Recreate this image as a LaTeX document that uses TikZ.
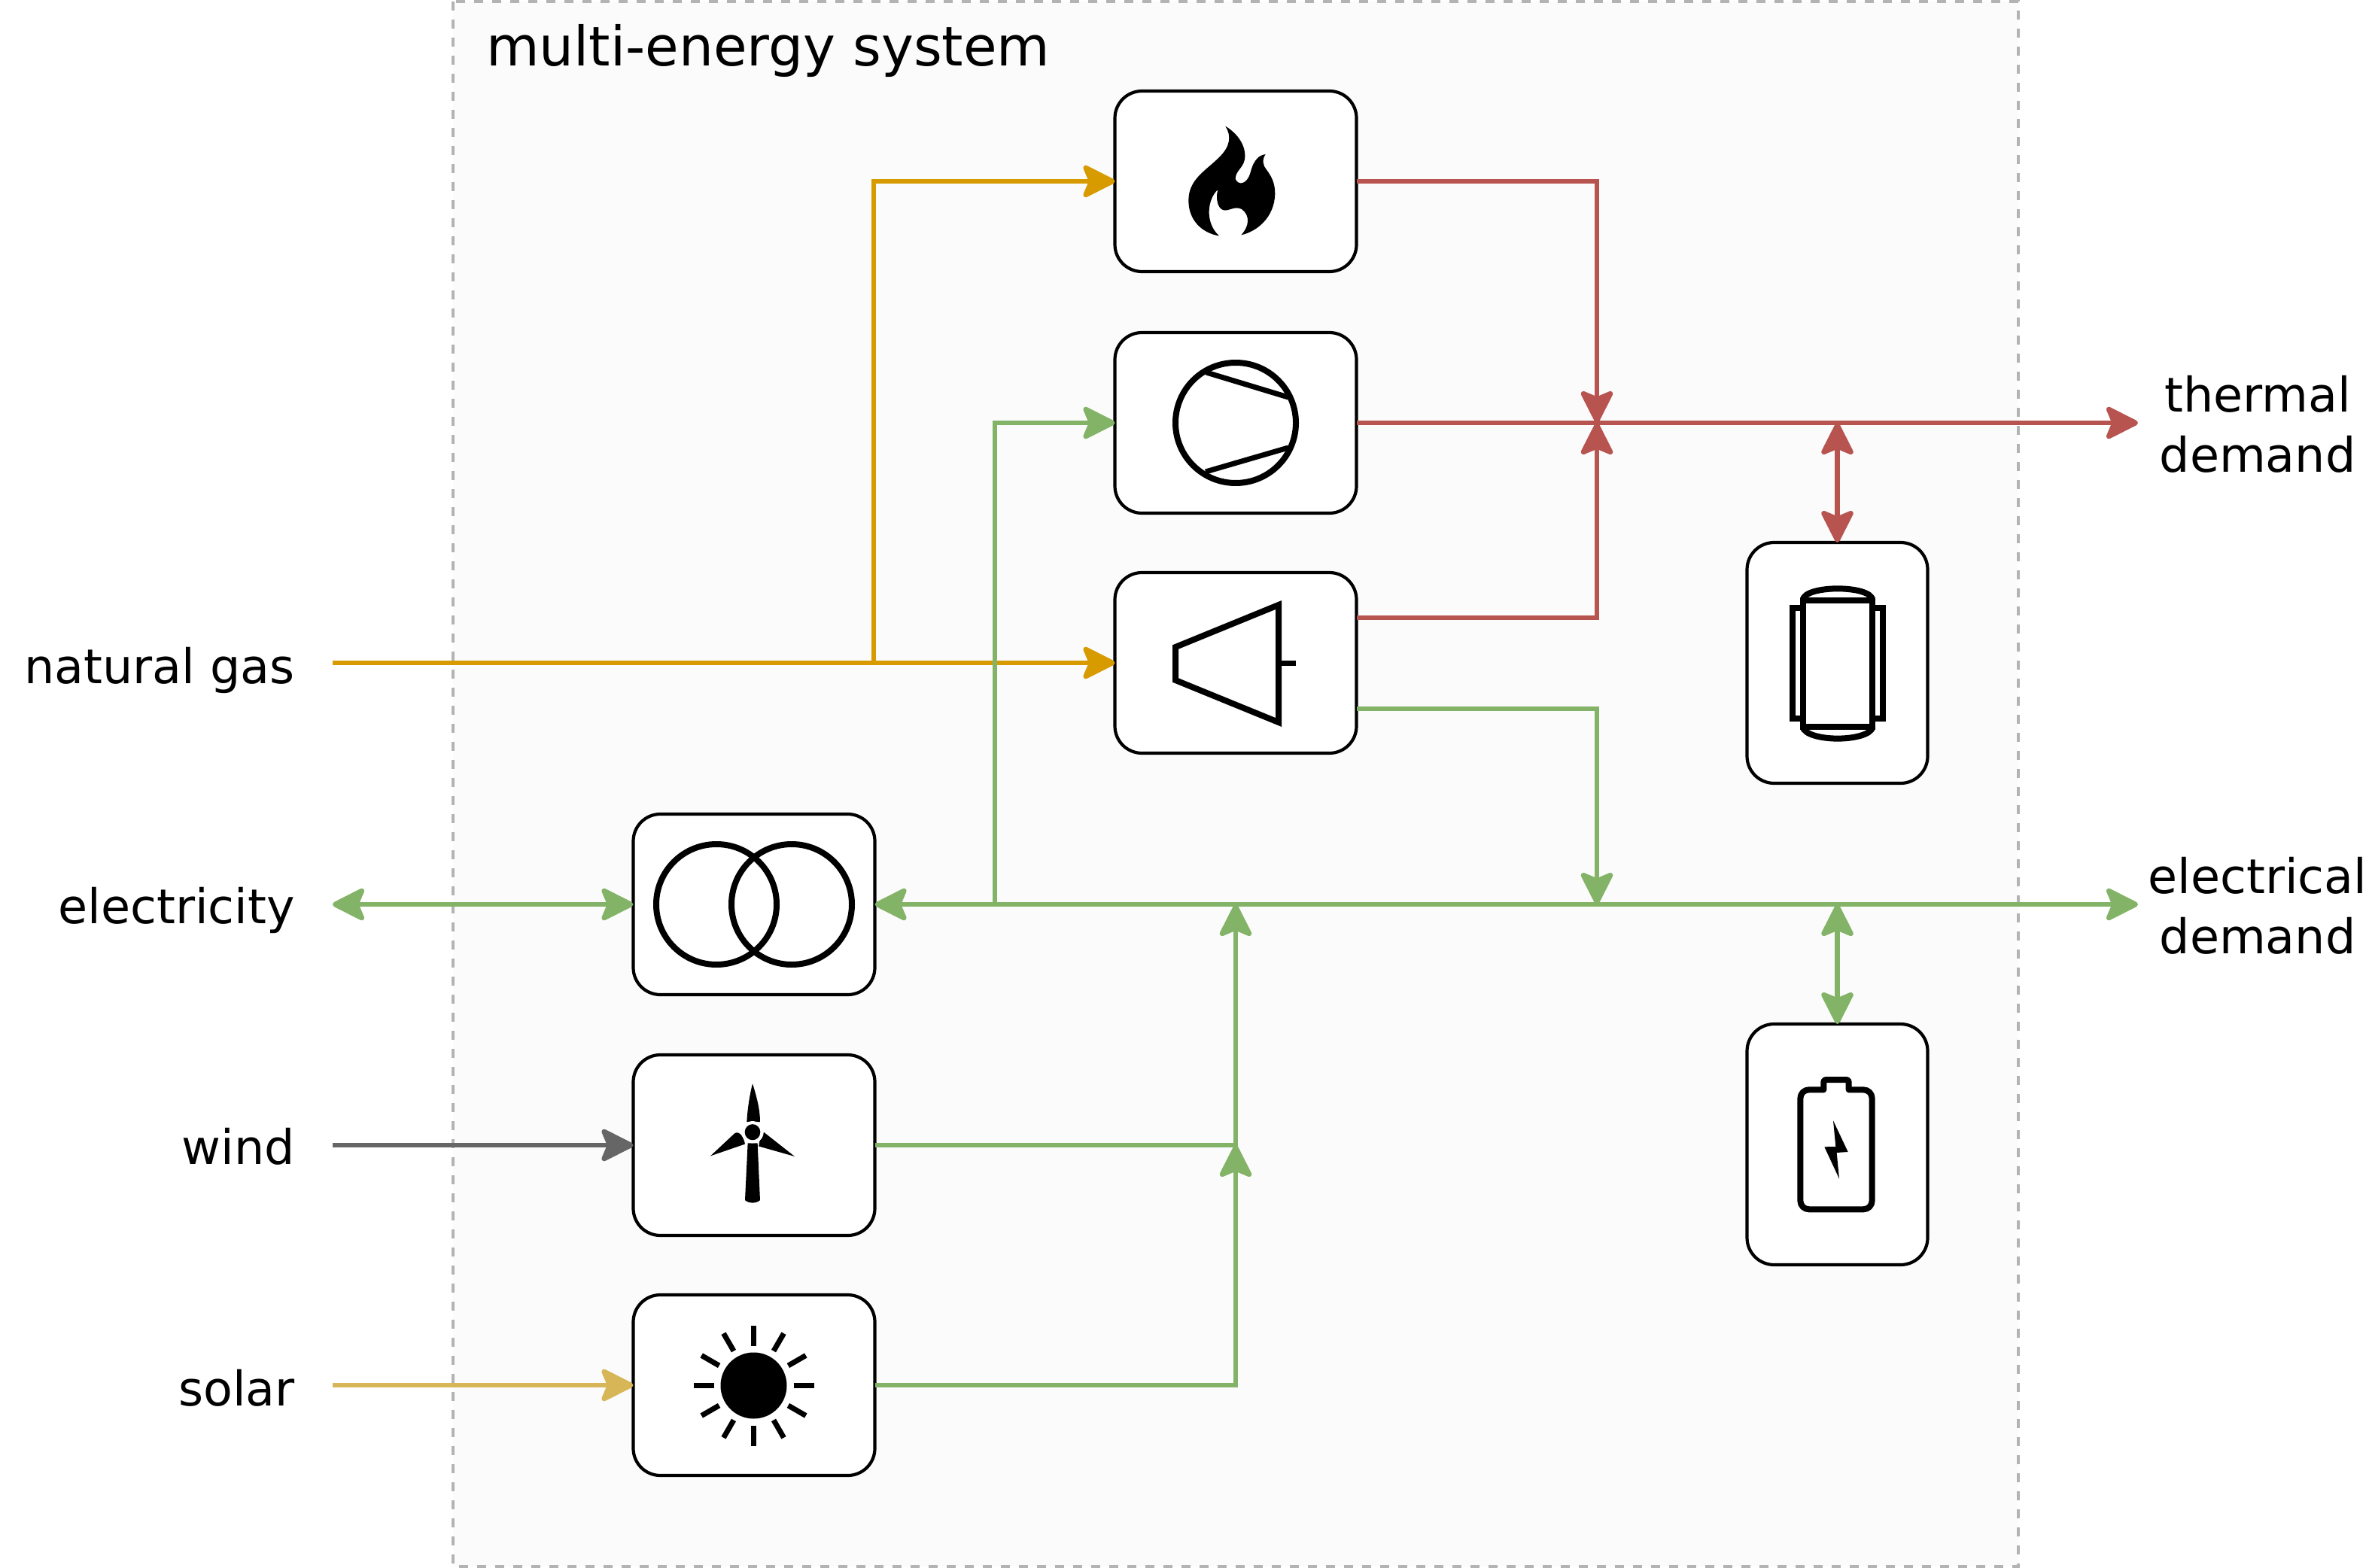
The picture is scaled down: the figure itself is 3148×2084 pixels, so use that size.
\documentclass[tikz,border=0pt]{standalone}
\usepackage{fontspec}
\setmainfont{DejaVu Sans}
\usetikzlibrary{arrows.meta}
\definecolor{gasc}{HTML}{D79B00}
\definecolor{elc}{HTML}{82B366}
\definecolor{thc}{HTML}{B85450}
\definecolor{solc}{HTML}{D6B656}
\definecolor{winc}{HTML}{666666}
\definecolor{sysbg}{HTML}{FBFBFB}
\definecolor{sysln}{HTML}{B3B3B3}
\tikzset{
  x=1pt,y=-1pt,
  tipa/.tip={Stealth[length=49pt,width=49pt,inset=10pt,round=false]},
  flow/.style={line width=6.8pt,-tipa,line join=miter},
  flowboth/.style={line width=6.8pt,tipa-tipa},
  unit/.style={draw=black,line width=4.2pt,fill=white,rounded corners=36pt,inner sep=0pt,outer sep=0pt,minimum width=321pt,minimum height=240pt},
  tallunit/.style={draw=black,line width=4.2pt,fill=white,rounded corners=36pt,inner sep=0pt,outer sep=0pt,minimum width=240pt,minimum height=320pt},
  lab/.style={inner sep=0pt,font=\fontsize{63.5}{80}\selectfont,text=black},
  labr/.style={lab,anchor=base east},
  labc/.style={lab,align=center},
  icon/.style={draw=black,line width=8pt,fill=none},
}
\begin{document}
\begin{tikzpicture}
\useasboundingbox (0,0) rectangle (3148,2084);
\fill[white] (0,0) rectangle (3148,2084);
\draw[fill=sysbg,draw=sysln,line width=4pt,dash pattern=on 12pt off 12pt] (602,2) rectangle (2682,2082);

\node[lab,font=\fontsize{72.5}{88}\selectfont,anchor=base west] (title) at (646,88) {multi-energy system};

% units
\node[unit] (boiler) at (1642,241) {};
\node[unit] (hp) at (1642,562) {};
\node[unit] (chp) at (1642,881) {};
\node[unit] (trafo) at (1002,1202) {};
\node[unit] (wt) at (1002,1522) {};
\node[unit] (pv) at (1002,1841) {};
\node[tallunit] (tes) at (2441.5,881) {};
\node[tallunit] (bat) at (2441.5,1521) {};

% labels
\node[labr] (lgas) at (392,908) {natural gas};
\node[labr] (lel) at (392,1227) {electricity};
\node[labr] (lwind) at (392,1547) {wind};
\node[labr] (lsol) at (392,1868) {solar};
\node[labc] (lth) at (3000,564) {thermal\\demand};
\node[labc] (led) at (3000,1204) {electrical\\demand};

% free ends and junctions
\coordinate (gasin) at (442,881);
\coordinate (gasj) at (1161,881);
\coordinate (elin) at (442,1202);
\coordinate (windin) at (442,1522);
\coordinate (solin) at (442,1841);
\coordinate (thout) at (2841,562);
\coordinate (elout) at (2841,1202);
\coordinate (thj) at (2122,562);
\coordinate (elj) at (2122,1202);
\coordinate (hpj) at (1322,1202);
\coordinate (resj) at (1642,1202);
\coordinate (resk) at (1642,1522);
\coordinate (thst) at (2441.5,562);
\coordinate (elst) at (2441.5,1202);
\coordinate (chpth) at (1803,821);
\coordinate (chpel) at (1803,942);

% gas
\draw[flow,gasc] (gasin) -- (chp.west);
\draw[flow,gasc] (gasj) |- (boiler.west);
% electricity
\draw[flow,elc] (hpj) |- (hp.west);
\draw[flowboth,elc] (elin) -- (trafo.west);
\draw[flowboth,elc] (trafo.east) -- (elout);
\draw[flow,elc] (chpel) -| (elj);
\draw[flow,elc] (wt.east) -| (resj);
\draw[flow,elc] (pv.east) -| (resk);
\draw[flowboth,elc] (elst) -- (bat.north);
% thermal
\draw[flow,thc] (boiler.east) -| (thj);
\draw[flow,thc] (chpth) -| (thj);
\draw[flow,thc] (hp.east) -- (thout);
\draw[flowboth,thc] (thst) -- (tes.north);
% renewables
\draw[flow,winc] (windin) -- (wt.west);
\draw[flow,solc] (solin) -- (pv.west);

% flame icon
\begin{scope}[shift={(1460,100)},xscale=0.3333,yscale=0.574]
\fill[black] (505,118) .. controls (555,135) and (590,165) .. (582,195)
 .. controls (575,215) and (545,222) .. (545,240)
 .. controls (555,255) and (590,255) .. (605,225)
 .. controls (618,195) and (640,185) .. (665,183)
 .. controls (650,195) and (655,210) .. (668,218)
 .. controls (690,235) and (703,250) .. (703,275)
 .. controls (700,330) and (630,362) .. (568,370)
 .. controls (600,350) and (605,325) .. (570,310)
 .. controls (535,300) and (510,322) .. (485,308)
 .. controls (470,298) and (468,280) .. (475,265)
 .. controls (435,285) and (420,340) .. (480,372)
 .. controls (410,365) and (358,335) .. (358,290)
 .. controls (358,240) and (430,220) .. (480,190)
 .. controls (525,165) and (530,140) .. (505,118) -- cycle;
\end{scope}

% compressor icon
\draw[icon] (1642,562) circle[radius=80];
\draw[icon,line width=7pt] (1603,495) -- (1712,528);
\draw[icon,line width=7pt] (1602,627) -- (1712,595);

% turbine icon
\draw[icon,line join=miter] (1562,860) -- (1699,804) -- (1699,960) -- (1562,904) -- cycle;
\draw[icon,line width=7pt] (1699,881) -- (1722,881);

% transformer icon
\draw[icon] (952,1202) circle[radius=80];
\draw[icon] (1052,1202) circle[radius=80];

% wind turbine icon
\begin{scope}[shift={(820,1060)},xscale=0.3333,yscale=0.5867]
\fill[black] (540,648) .. controls (555,675) and (570,705) .. (570,735) -- (517,735) .. controls (520,705) and (528,675) .. (540,648) -- cycle;
\fill[black] (372,812) -- (470,760) .. controls (490,755) and (505,770) .. (510,785) -- cycle;
\fill[black] (708,813) -- (585,758) .. controls (575,765) and (565,780) .. (565,790) -- cycle;
\fill[black] (521,783) -- (560,783) -- (570,912) .. controls (555,920) and (525,920) .. (510,912) -- cycle;
\fill[white] (540,758) ellipse[x radius=44,y radius=25];
\fill[black] (540,758) ellipse[x radius=31,y radius=18];
\end{scope}

% sun icon
\fill[black] (1001.5,1841.5) circle[radius=44];
\foreach \a in {0,30,...,330}
  \draw[black,line width=7pt] (1001.5,1841.5) ++(\a:53) -- ++(\a:27);

% storage tank icon
\begin{scope}[shift={(2300,700)},xscale=0.3333,yscale=0.3333]
\draw[icon] (287,293) rectangle (565,797);
\draw[icon] (287,293) .. controls (290,260) and (365,247) .. (426,247) .. controls (487,247) and (562,260) .. (565,293);
\draw[icon] (287,797) .. controls (290,830) and (365,845) .. (426,845) .. controls (487,845) and (562,830) .. (565,797);
\draw[icon,line join=miter] (287,325) -- (246,325) -- (246,766) -- (287,766);
\draw[icon,line join=miter] (565,325) -- (606,325) -- (606,766) -- (565,766);
\end{scope}

% battery icon
\begin{scope}[shift={(2300,1350)},xscale=0.3333,yscale=0.3333]
\draw[icon,line join=round] (277,330) .. controls (277,310) and (292,295) .. (312,295) -- (370,295) -- (370,265) .. controls (370,258) and (373,255) .. (380,255) -- (460,255) .. controls (467,255) and (470,258) .. (470,265) -- (470,295) -- (528,295) .. controls (548,295) and (563,310) .. (563,330) -- (563,737) .. controls (563,757) and (548,772) .. (528,772) -- (312,772) .. controls (292,772) and (277,757) .. (277,737) -- cycle;
\fill[black] (408,418) -- (467,543) -- (422,546) -- (432,650) -- (373,523) -- (418,522) -- cycle;
\end{scope}
\end{tikzpicture}
\end{document}
